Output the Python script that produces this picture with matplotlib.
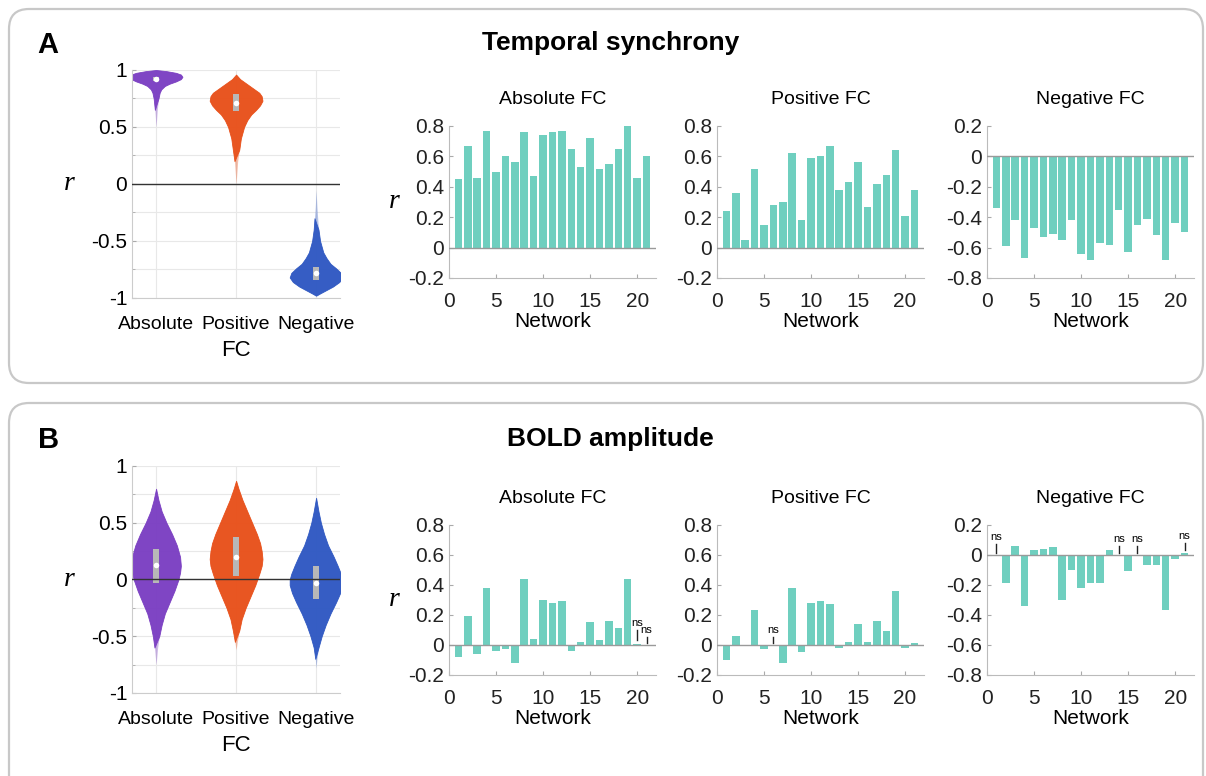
import numpy as np
import matplotlib.pyplot as plt
from matplotlib.patches import FancyBboxPatch, Rectangle
from matplotlib.ticker import FuncFormatter, MultipleLocator

plt.rcParams['font.family'] = ['Liberation Sans', 'DejaVu Sans']

fc_types = ['Absolute', 'Positive', 'Negative']
violin_colors = ['#7B3FC2', '#E8501A', '#2F58C2']
bar_color = '#6FCFBF'
networks = list(range(1, 22))

# panel A: temporal synchrony, r per network
sync_abs = [0.45, 0.67, 0.46, 0.77, 0.50, 0.60, 0.56, 0.76, 0.47, 0.74, 0.76,
            0.77, 0.65, 0.53, 0.72, 0.52, 0.55, 0.65, 0.80, 0.46, 0.60]
sync_pos = [0.24, 0.36, 0.05, 0.52, 0.15, 0.28, 0.30, 0.62, 0.18, 0.59, 0.60,
            0.67, 0.38, 0.43, 0.56, 0.27, 0.42, 0.48, 0.64, 0.21, 0.38]
sync_neg = [-0.34, -0.59, -0.42, -0.67, -0.47, -0.53, -0.51, -0.55, -0.42, -0.64, -0.68,
            -0.57, -0.58, -0.35, -0.63, -0.45, -0.41, -0.52, -0.68, -0.44, -0.50]

# panel B: BOLD amplitude, r per network
amp_abs = [-0.08, 0.19, -0.06, 0.38, -0.04, -0.03, -0.12, 0.44, 0.04, 0.30, 0.28,
           0.29, -0.04, 0.02, 0.15, 0.03, 0.16, 0.11, 0.44, 0.005, 0.0]
amp_pos = [-0.10, 0.06, -0.01, 0.23, -0.03, 0.0, -0.12, 0.38, -0.05, 0.28, 0.29,
           0.27, -0.02, 0.02, 0.14, 0.02, 0.16, 0.09, 0.36, -0.02, 0.01]
amp_neg = [0.0, -0.19, 0.06, -0.34, 0.03, 0.04, 0.05, -0.30, -0.10, -0.22, -0.19,
           -0.19, 0.03, 0.0, -0.11, -0.01, -0.07, -0.07, -0.37, -0.03, 0.01]

# non-significant marks: network, line bottom, line top
ns_abs = [(20, 0.03, 0.10), (21, 0.01, 0.05)]
ns_pos = [(6, 0.01, 0.05)]
ns_neg = [(1, 0.015, 0.07), (14, 0.01, 0.06), (16, 0.01, 0.06), (21, 0.03, 0.08)]

# violin outlines: r levels and half widths
sync_violins = [
    ([0.50, 0.55, 0.65, 0.75, 0.80, 0.83, 0.86, 0.88, 0.90, 0.92, 0.94, 0.96, 0.975, 0.99, 1.0],
     [0.0, 0.005, 0.015, 0.03, 0.045, 0.065, 0.11, 0.17, 0.25, 0.31, 0.33, 0.31, 0.25, 0.13, 0.0]),
    ([0.0, 0.10, 0.20, 0.30, 0.40, 0.50, 0.56, 0.61, 0.65, 0.69, 0.73, 0.77, 0.80, 0.83, 0.86, 0.89, 0.92, 0.96],
     [0.0, 0.01, 0.02, 0.04, 0.06, 0.10, 0.14, 0.19, 0.25, 0.30, 0.33, 0.32, 0.29, 0.23, 0.17, 0.11, 0.05, 0.0]),
    ([-0.98, -0.96, -0.93, -0.90, -0.86, -0.82, -0.78, -0.74, -0.70, -0.65, -0.60, -0.50, -0.40, -0.30, -0.20, -0.05],
     [0.0, 0.05, 0.13, 0.21, 0.29, 0.33, 0.31, 0.25, 0.18, 0.13, 0.09, 0.05, 0.03, 0.02, 0.01, 0.0]),
]
sync_boxes = [(0.90, 0.92, 0.94), (0.64, 0.71, 0.79), (-0.84, -0.78, -0.73)]

amp_violins = [
    ([-0.75, -0.60, -0.50, -0.40, -0.30, -0.20, -0.10, 0.0, 0.06, 0.12, 0.20, 0.30, 0.40, 0.50, 0.60, 0.70, 0.80],
     [0.0, 0.02, 0.04, 0.07, 0.11, 0.17, 0.23, 0.28, 0.30, 0.31, 0.30, 0.26, 0.20, 0.13, 0.07, 0.03, 0.0]),
    ([-0.62, -0.55, -0.45, -0.35, -0.25, -0.15, -0.05, 0.05, 0.12, 0.18, 0.25, 0.32, 0.40, 0.50, 0.60, 0.70, 0.80, 0.87],
     [0.0, 0.015, 0.04, 0.07, 0.12, 0.18, 0.24, 0.29, 0.32, 0.33, 0.32, 0.30, 0.26, 0.20, 0.14, 0.08, 0.03, 0.0]),
    ([-0.78, -0.70, -0.60, -0.50, -0.40, -0.30, -0.20, -0.12, -0.05, 0.0, 0.05, 0.12, 0.20, 0.30, 0.40, 0.50, 0.60, 0.72],
     [0.0, 0.01, 0.03, 0.07, 0.12, 0.18, 0.25, 0.30, 0.33, 0.33, 0.31, 0.27, 0.22, 0.15, 0.10, 0.06, 0.03, 0.0]),
]
amp_boxes = [(-0.03, 0.13, 0.27), (0.03, 0.20, 0.37), (-0.17, -0.03, 0.12)]


def tick_fmt(v, _):
    return '%g' % (round(v, 2) + 0.0)


def draw_violins(ax, violins, boxes):
    for i, ((ys, hw), (q1, med, q3), col) in enumerate(zip(violins, boxes, violin_colors)):
        pos = i + 1
        ys = np.array(ys)
        hw = np.array(hw)
        # faint full outline, then solid body so the thin tails look faded
        ax.fill_betweenx(ys, pos - hw, pos + hw, color=col, lw=0, alpha=0.35, zorder=2)
        core = hw >= 0.03
        ax.fill_betweenx(ys, pos - hw, pos + hw, where=core, interpolate=True,
                         color=col, lw=0.6, edgecolor=col, alpha=0.95, zorder=2)
        ax.add_patch(Rectangle((pos - 0.035, q1), 0.07, q3 - q1, color='#B8B8B8',
                               lw=0, zorder=3))
        ax.plot(pos, med, 'o', color='white', ms=4, mec='none', zorder=4)
    ax.axhline(0, color='#333333', lw=1.0, zorder=3)
    ax.set_xlim(0.7, 3.3)
    ax.set_ylim(-1, 1)
    ax.set_xticks([1, 2, 3])
    ax.set_xticklabels(fc_types, fontsize=14)
    ax.set_yticks([-1, -0.5, 0, 0.5, 1])
    ax.yaxis.set_major_formatter(FuncFormatter(tick_fmt))
    ax.yaxis.set_minor_locator(MultipleLocator(0.25))
    ax.grid(True, which='both', color='#E8E8E8', lw=0.8, zorder=0)
    ax.set_axisbelow(True)
    ax.tick_params(axis='y', labelsize=15, direction='in', length=3, color='#AAAAAA')
    ax.tick_params(axis='y', which='minor', direction='in', length=2, color='#AAAAAA')
    ax.tick_params(axis='x', length=0, pad=13)
    for s in ['top', 'right']:
        ax.spines[s].set_visible(False)
    for s in ['left', 'bottom']:
        ax.spines[s].set_color('#CCCCCC')
    ax.set_xlabel('FC', fontsize=16, labelpad=5)
    ax.set_ylabel('r', fontsize=20, rotation=0, labelpad=16, va='center',
                  family='Liberation Serif', style='italic')


def draw_bars(ax, values, title, ylim, ns=None, ylabel=False):
    ax.bar(networks, values, width=0.8, color=bar_color, lw=0, zorder=2)
    ax.axhline(0, color='#9A9A9A', lw=1.0, zorder=3)
    ax.set_xlim(0, 22)
    ax.set_ylim(*ylim)
    ax.set_xticks([0, 5, 10, 15, 20])
    ax.set_yticks(np.arange(ylim[0], ylim[1] + 0.01, 0.2))
    ax.yaxis.set_major_formatter(FuncFormatter(tick_fmt))
    ax.tick_params(labelsize=15, direction='in', length=3, color='#AAAAAA',
                   labelcolor='#222222')
    ax.tick_params(axis='x', pad=10)
    for s in ['top', 'right']:
        ax.spines[s].set_visible(False)
    for s in ['left', 'bottom']:
        ax.spines[s].set_color('#BBBBBB')
    ax.set_title(title, fontsize=14, pad=16)
    ax.set_xlabel('Network', fontsize=15, labelpad=1)
    if ylabel:
        ax.set_ylabel('r', fontsize=20, rotation=0, labelpad=10, va='center',
                      family='Liberation Serif', style='italic')
    if ns:
        for n, lo, hi in ns:
            ax.plot([n, n], [lo, hi], color='#222222', lw=1.0, zorder=4)
            ax.text(n, hi + 0.015, 'ns', fontsize=8, ha='center', va='bottom')


fig = plt.figure(figsize=(12.06, 7.76), dpi=100)

# rounded panel frames
for y0, h in [(3.93, 3.74), (-0.3, 4.03)]:
    fig.patches.append(FancyBboxPatch((0.09, y0), 11.94, h,
                                      boxstyle='round,pad=0,rounding_size=0.2',
                                      transform=fig.dpi_scale_trans, fill=False,
                                      ec='#C8C8C8', lw=1.6))

fig.text(0.040, 0.942, 'A', fontsize=21, fontweight='bold', ha='center', va='center')
fig.text(0.040, 0.433, 'B', fontsize=21, fontweight='bold', ha='center', va='center')
fig.text(0.506, 0.944, 'Temporal synchrony', fontsize=19, fontweight='bold',
         ha='center', va='center')
fig.text(0.506, 0.434, 'BOLD amplitude', fontsize=19, fontweight='bold',
         ha='center', va='center')

bar_lefts = [0.3723, 0.5945, 0.8184]
bar_w = 0.1716

# panel A
ax = fig.add_axes([0.1095, 0.616, 0.1725, 0.2938])
draw_violins(ax, sync_violins, sync_boxes)
ax = fig.add_axes([bar_lefts[0], 0.6418, bar_w, 0.1959])
draw_bars(ax, sync_abs, 'Absolute FC', (-0.2, 0.8), ylabel=True)
ax = fig.add_axes([bar_lefts[1], 0.6418, bar_w, 0.1959])
draw_bars(ax, sync_pos, 'Positive FC', (-0.2, 0.8))
ax = fig.add_axes([bar_lefts[2], 0.6418, bar_w, 0.1959])
draw_bars(ax, sync_neg, 'Negative FC', (-0.8, 0.2))

# panel B
ax = fig.add_axes([0.1095, 0.107, 0.1725, 0.2925])
draw_violins(ax, amp_violins, amp_boxes)
ax = fig.add_axes([bar_lefts[0], 0.1302, bar_w, 0.1933])
draw_bars(ax, amp_abs, 'Absolute FC', (-0.2, 0.8), ns=ns_abs, ylabel=True)
ax = fig.add_axes([bar_lefts[1], 0.1302, bar_w, 0.1933])
draw_bars(ax, amp_pos, 'Positive FC', (-0.2, 0.8), ns=ns_pos)
ax = fig.add_axes([bar_lefts[2], 0.1302, bar_w, 0.1933])
draw_bars(ax, amp_neg, 'Negative FC', (-0.8, 0.2), ns=ns_neg)

fig.savefig('out.png', dpi=100)
